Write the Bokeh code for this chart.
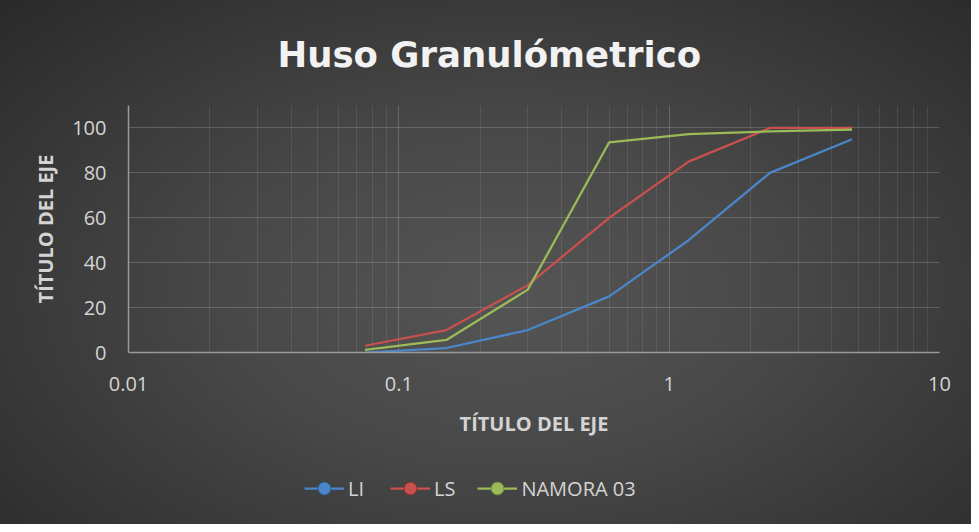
from bokeh.plotting import figure
from bokeh.layouts import column
from bokeh.models import FixedTicker, Legend, LegendItem, ColumnDataSource
from bokeh.embed import file_html
from bokeh.resources import INLINE

# ---- data ----
sizes = [0.075, 0.15, 0.3, 0.6, 1.18, 2.36, 4.75]
li = [0, 2, 10, 25, 50, 80, 95]
ls = [3, 10, 30, 60, 85, 100, 100]
namora = [1.2, 5.6, 28, 93.6, 97.3, 98.5, 99.3]
series_names = ["LI", "LS", "NAMORA 03"]
x_ticks = [0.01, 0.1, 1, 10]
x_tick_labels = ["0.01", "0.1", "1", "10"]
y_ticks = [0, 20, 40, 60, 80, 100]
title_text = "Huso Granulómetrico"
axis_title = "TÍTULO DEL EJE"

colors = ["#4a86c8", "#c8504d", "#9bbb59"]
edge = ["#2f5f96", "#8f2f2c", "#6f8a35"]
label_color = "#d4d4d4"

minor = [k * t for t in x_ticks[:-1] for k in range(2, 10)]

p = figure(width=971, height=452, x_axis_type="log", x_range=(0.01, 10), y_range=(0, 110),
           output_backend="svg", toolbar_location=None,
           min_border_left=128, min_border_right=32, min_border_top=105, min_border_bottom=100)
p.border_fill_alpha = 0
p.background_fill_alpha = 0
p.outline_line_color = None

p.title.text = title_text
p.title.align = "left"
p.title.offset = 149
p.title.standoff = 62
p.title.text_font = "DejaVu Sans"
p.title.text_font_style = "bold"
p.title.text_font_size = "35.5px"
p.title.text_color = "#f2f2f2"

p.xaxis.ticker = FixedTicker(ticks=x_ticks, minor_ticks=minor)
p.xaxis.major_label_overrides = dict(zip(x_ticks, x_tick_labels))
p.yaxis.ticker = FixedTicker(ticks=y_ticks)

for ax in (p.xaxis[0], p.yaxis[0]):
    ax.axis_line_color = "#9a9a9a"
    ax.axis_line_width = 1.5
    ax.major_tick_line_color = None
    ax.minor_tick_line_color = None
    ax.major_tick_out = 0
    ax.minor_tick_out = 0
    ax.major_label_text_font = "Open Sans"
    ax.major_label_text_font_size = "20px"
    ax.major_label_text_color = label_color
    ax.axis_label = axis_title
    ax.axis_label_text_font = "Open Sans"
    ax.axis_label_text_font_size = "20px"
    ax.axis_label_text_font_style = "bold"
    ax.axis_label_text_color = label_color
p.xaxis.major_label_standoff = 24
p.xaxis.axis_label_standoff = 16
p.yaxis.major_label_standoff = 22
p.yaxis.axis_label_standoff = 10

p.xgrid.grid_line_color = "white"
p.xgrid.grid_line_alpha = 0.18
p.xgrid.minor_grid_line_color = "white"
p.xgrid.minor_grid_line_alpha = 0.09
p.ygrid.grid_line_color = "white"
p.ygrid.grid_line_alpha = 0.18

# legend strip below the chart
pl = figure(width=971, height=72, x_range=(-3, -2), y_range=(-3, -2),
            output_backend="svg", toolbar_location=None, min_border=0)
pl.axis.visible = False
pl.grid.visible = False
pl.outline_line_color = None
pl.border_fill_alpha = 0
pl.background_fill_alpha = 0

items = []
for name, vals, c, e in zip(series_names, [li, ls, namora], colors, edge):
    src = ColumnDataSource(dict(x=sizes, y=vals))
    p.line("x", "y", source=src, line_color=c, line_width=2.25)
    lr = pl.line("x", "y", source=src, line_color=c, line_width=2.25)
    mr = pl.scatter("x", "y", source=src, marker="circle", size=14, fill_color=c, line_color=e)
    items.append(LegendItem(label=name, renderers=[lr, mr]))

legend = Legend(items=items, orientation="horizontal", location=(176, 20),
                border_line_color=None, background_fill_alpha=0,
                label_text_color=label_color, label_text_font="Open Sans",
                label_text_font_size="20px", glyph_width=40, glyph_height=32,
                spacing=22, padding=0, margin=0, label_standoff=4)
pl.add_layout(legend)

layout = column(p, pl, spacing=0,
                styles={"background": "radial-gradient(ellipse 72% 80% at 52% 56%, #555555 0%, #484848 40%, #2a2a2a 100%)"})

open("out.html", "w").write(file_html(layout, INLINE))
